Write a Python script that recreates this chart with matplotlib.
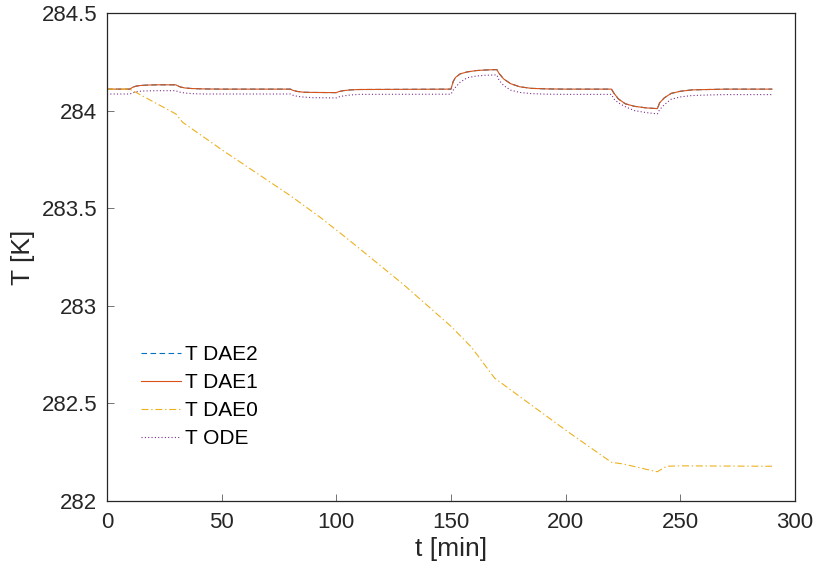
import matplotlib
matplotlib.use("Agg")
import matplotlib.pyplot as plt

# time grid [min] (denser around the input steps)
t = [0, 10, 11, 12, 13, 15, 18, 22, 30, 31, 32, 34, 37, 42, 50, 80, 81, 83, 86, 90,
     100, 101, 103, 106, 110, 150, 151, 152, 154, 157, 161, 165, 170, 171, 173, 176,
     180, 185, 192, 200, 220, 221, 223, 226, 230, 235, 240, 241, 243, 246, 250, 255,
     262, 270, 290]

T_dae1 = [284.11, 284.11, 284.118, 284.123, 284.126, 284.129, 284.131, 284.132, 284.132,
          284.126, 284.121, 284.116, 284.113, 284.111, 284.11, 284.11, 284.104, 284.098,
          284.094, 284.093, 284.092, 284.097, 284.102, 284.106, 284.108, 284.11, 284.15,
          284.17, 284.188, 284.198, 284.205, 284.208, 284.21, 284.19, 284.162, 284.138,
          284.122, 284.114, 284.111, 284.11, 284.11, 284.09, 284.06, 284.035, 284.022,
          284.014, 284.01, 284.04, 284.065, 284.088, 284.099, 284.106, 284.108, 284.11,
          284.11]

# DAE2 lies on top of DAE1 everywhere in the picture
T_dae2 = list(T_dae1)

T_ode = [284.085, 284.085, 284.09, 284.094, 284.097, 284.1, 284.101, 284.102, 284.102,
         284.097, 284.094, 284.09, 284.087, 284.085, 284.085, 284.085, 284.079, 284.073,
         284.069, 284.066, 284.065, 284.07, 284.075, 284.08, 284.083, 284.084, 284.105,
         284.12, 284.145, 284.168, 284.177, 284.181, 284.183, 284.155, 284.128, 284.105,
         284.093, 284.087, 284.084, 284.083, 284.083, 284.06, 284.04, 284.02, 284.0,
         283.99, 283.983, 284.005, 284.03, 284.058, 284.07, 284.077, 284.08, 284.082,
         284.082]

t_dae0 = [0, 10, 30, 33, 50, 80, 93, 105, 129, 135, 150, 159, 169, 180, 200, 220, 225,
          239, 240, 244, 250, 270, 290]
T_dae0 = [284.11, 284.11, 283.983, 283.94, 283.80, 283.564, 283.453, 283.342, 283.112,
          283.05, 282.895, 282.787, 282.63, 282.535, 282.363, 282.198, 282.19, 282.152,
          282.15, 282.178, 282.18, 282.179, 282.178]

blue = (0, 0.447, 0.741)
orange = (0.85, 0.325, 0.098)
yellow = (0.929, 0.694, 0.125)
purple = (0.494, 0.184, 0.556)

plt.rcParams['font.family'] = ['Liberation Sans', 'DejaVu Sans']
plt.rcParams['lines.scale_dashes'] = False

fig = plt.figure(figsize=(8.16, 5.75), dpi=100)
ax = fig.add_axes([0.1311, 0.1287, 0.8431, 0.8487])

lw = 0.8
ax.plot(t, T_dae2, color=blue, lw=lw, dashes=(4, 2.5), label='T DAE2')
ax.plot(t, T_dae1, color=orange, lw=lw, label='T DAE1')
ax.plot(t_dae0, T_dae0, color=yellow, lw=lw, dashes=(5, 2, 1, 2), label='T DAE0')
ax.plot(t, T_ode, color=purple, lw=lw, dashes=(0.8, 1.6), label='T ODE')

ax.set_xlim(0, 300)
ax.set_ylim(282, 284.5)
ax.set_xticks([0, 50, 100, 150, 200, 250, 300])
ax.set_yticks([282, 282.5, 283, 283.5, 284, 284.5])
ax.set_yticklabels(['282', '282.5', '283', '283.5', '284', '284.5'])

dark = (0.15, 0.15, 0.15)
for s in ax.spines.values():
    s.set_color(dark)
    s.set_linewidth(0.9)
ax.tick_params(direction='in', length=5, width=0.7, color=(0.45, 0.45, 0.45),
               labelsize=16, labelcolor=dark)
ax.tick_params(axis='x', pad=8)
ax.tick_params(axis='y', pad=7)

ax.set_xlabel('t [min]', fontsize=19, color=dark, labelpad=3)
ax.set_ylabel('T [K]', fontsize=19, color=dark, labelpad=5)

ax.legend(loc='upper left', bbox_to_anchor=(0.037, 0.336), frameon=False,
          fontsize=15, handlelength=1.92, handletextpad=0.2, labelspacing=0.43,
          borderaxespad=0)

fig.savefig('out.png', dpi=100)
